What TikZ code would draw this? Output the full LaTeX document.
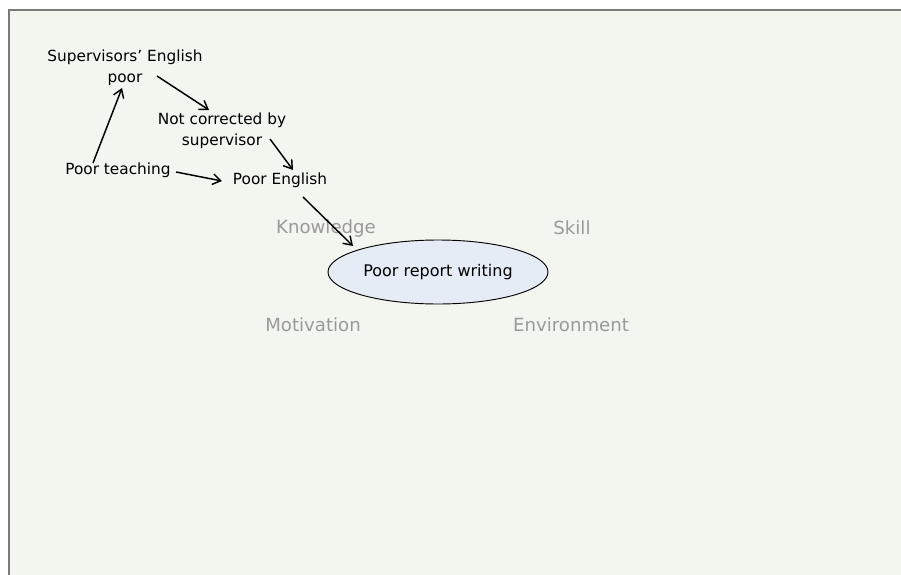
\documentclass[tikz,border=0pt]{standalone}
\usepackage{fontspec}
\setmainfont{DejaVu Sans}
\usetikzlibrary{calc,arrows.meta,shapes.geometric}
\definecolor{paper}{HTML}{F3F5EF}
\definecolor{frame}{HTML}{7A7A7A}
\definecolor{faint}{HTML}{9A9A9A}
\definecolor{bubble}{HTML}{E6ECF6}

\begin{document}
\begin{tikzpicture}[x=0.75pt,y=-0.75pt,
  every node/.style={font=\fontsize{11.5}{15.75}\selectfont, align=center},
  cause/.style={text=black},
  factor/.style={text=faint, font=\fontsize{13.6}{16}\selectfont},
  arr/.style={-{Straight Barb[length=6pt,width=8pt]}, line width=1.1pt}]
  \useasboundingbox (0,0) rectangle (901,575);
  \draw[fill=paper, draw=frame, line width=1.4pt] (9,10) rectangle (910,590);
  \node[factor] (know) at (326,228) {Knowledge};
  \node[factor] (skill) at (572,228) {Skill};
  \node[factor] (motiv) at (313,325) {Motivation};
  \node[factor] (env) at (571,325) {Environment};
  \node[ellipse, draw, fill=bubble, line width=0.7pt, minimum width=165pt,
        minimum height=48pt, inner sep=0pt, font=\fontsize{12}{15}\selectfont]
        (report) at (438,272) {Poor report writing};
  \node[cause] (supeng) at (125,68) {Supervisors’ English\\poor};
  \node[cause] (notcorr) at (222,131) {Not corrected by\\supervisor};
  \node[cause] (teach) at (118,170) {Poor teaching};
  \node[cause] (engl) at (280,180) {Poor English};
  \draw[arr] ($(teach)+(-25,-7)$) -- ($(supeng)+(-3,20)$);
  \draw[arr] ($(supeng)+(32,8)$) -- ($(notcorr)+(-13,-21)$);
  \draw[arr] ($(notcorr)+(48,8)$) -- ($(engl)+(13,-10)$);
  \draw[arr] ($(teach)+(58,2)$) -- ($(engl)+(-58,1)$);
  \draw[arr] ($(engl)+(23,17)$) -- ($(report)+(-85,-26)$);
\end{tikzpicture}
\end{document}
